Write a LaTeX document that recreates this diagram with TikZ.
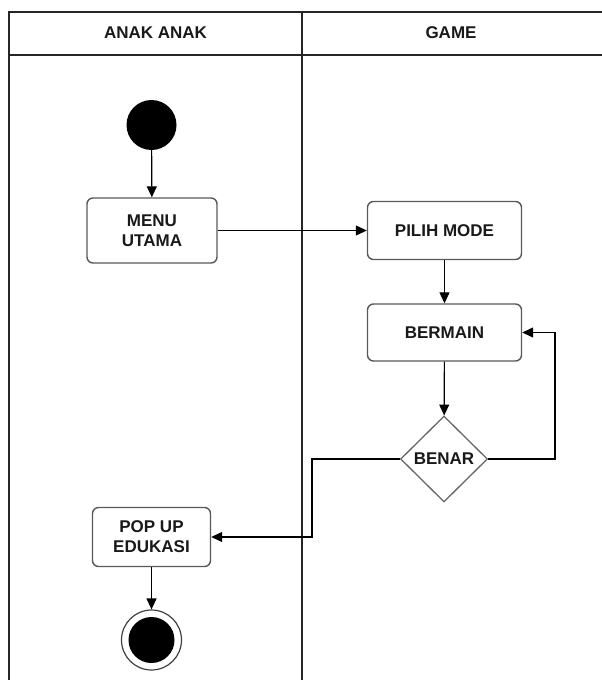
\documentclass[tikz,border=0pt]{standalone}
\usepackage{fontspec}
\setmainfont{Liberation Sans}
\usetikzlibrary{shapes.geometric,arrows.meta}
\begin{document}
\begin{tikzpicture}[x=1pt,y=-1pt,
  every node/.style={font=\fontsize{17}{20}\selectfont\bfseries, text=black!90},
  frameline/.style={line width=2pt, draw=black!85},
  actbox/.style={draw=black!65, line width=1.4pt, rounded corners=6pt, align=center, inner sep=0pt},
  decision/.style={draw=black!60, line width=1.3pt, diamond, inner sep=0pt, minimum width=87pt, minimum height=86pt},
  flow/.style={draw=black, line width=1.2pt, -{Triangle[length=11pt,width=10pt]}}]
\useasboundingbox (0,0) rectangle (602,680);
% frame
\draw[frameline] (612,12) -- (9,12) -- (9,690);
\draw[frameline] (9,55) -- (612,55);
\draw[frameline] (302,12) -- (302,690);
\node (h1) at (155.5,33) {ANAK ANAK};
\node (h2) at (451,33) {GAME};
% nodes
\node[circle, fill=black, minimum size=50pt, inner sep=0pt] (start) at (151.5,125) {};
\node[actbox, minimum width=130pt, minimum height=65pt] (menu) at (152,230.5) {MENU\\UTAMA};
\node[actbox, minimum width=154pt, minimum height=58pt] (pilih) at (444.5,230.5) {PILIH MODE};
\node[actbox, minimum width=154pt, minimum height=57pt] (main) at (444.5,332.5) {BERMAIN};
\node[decision] (benar) at (444,459) {BENAR};
\node[actbox, minimum width=118pt, minimum height=59pt] (popup) at (151.5,537) {POP UP\\EDUKASI};
\node[circle, draw=black!75, line width=1.2pt, minimum size=60pt, inner sep=0pt] (end) at (151.5,640) {};
\node[circle, fill=black, minimum size=46pt, inner sep=0pt] (endin) at (151.5,640) {};
\coordinate (r1) at (555,459);
\coordinate (r2) at (555,332.5);
\coordinate (l1) at (312,459);
\coordinate (l2) at (312,537);
% connectors
\draw[flow] (start) -- (menu);
\draw[flow] (menu) -- (pilih);
\draw[flow] (pilih) -- (main);
\draw[flow] (main) -- (benar);
\draw[flow] (benar.east) -- (r1) -- (r2) -- (main.east);
\draw[flow] (benar.west) -- (l1) -- (l2) -- (popup.east);
\draw[flow] (popup) -- (end);
\end{tikzpicture}
\end{document}
